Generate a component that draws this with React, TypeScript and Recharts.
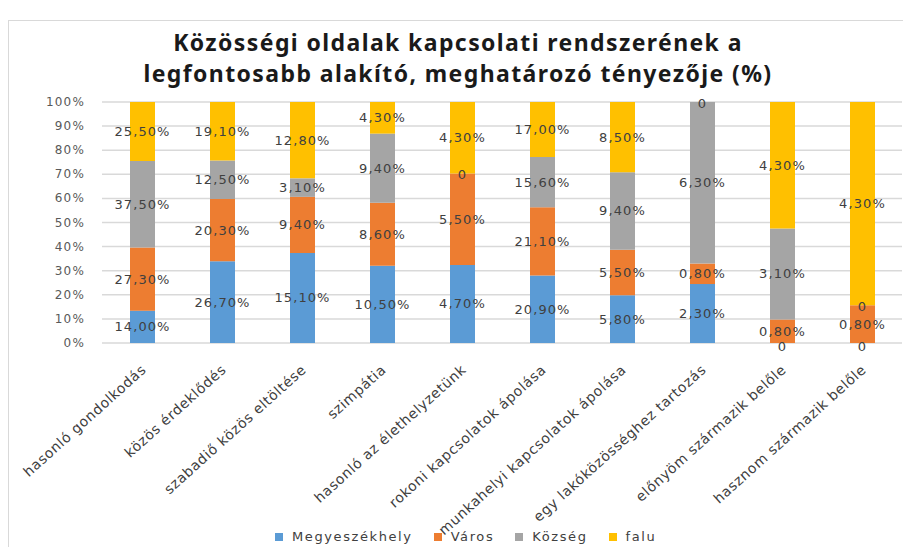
import React from "react";
import { BarChart, Bar, XAxis, YAxis, CartesianGrid, LabelList, Legend } from "recharts";

const categories = [
  "hasonló gondolkodás",
  "közös érdeklődés",
  "szabadiő közös eltöltése",
  "szimpátia",
  "hasonló az élethelyzetünk",
  "rokoni kapcsolatok ápolása",
  "munkahelyi kapcsolatok ápolása",
  "egy lakóközösséghez tartozás",
  "előnyöm származik belőle",
  "hasznom származik belőle",
];
const megyeszekhely = [14.0, 26.7, 15.1, 10.5, 4.7, 20.9, 5.8, 2.3, 0, 0];
const varos = [27.3, 20.3, 9.4, 8.6, 5.5, 21.1, 5.5, 0.8, 0.8, 0.8];
const kozseg = [37.5, 12.5, 3.1, 9.4, 0, 15.6, 9.4, 6.3, 3.1, 0];
const falu = [25.5, 19.1, 12.8, 4.3, 4.3, 17.0, 8.5, 0, 4.3, 4.3];
const yTicks = [0, 0.1, 0.2, 0.3, 0.4, 0.5, 0.6, 0.7, 0.8, 0.9, 1];

const seriesDefs = [
  { key: "m", name: "Megyeszékhely", color: "#5B9BD5", values: megyeszekhely },
  { key: "v", name: "Város", color: "#ED7D31", values: varos },
  { key: "k", name: "Község", color: "#A5A5A5", values: kozseg },
  { key: "f", name: "falu", color: "#FFC000", values: falu },
];

const data = categories.map((c, i) => ({
  name: c,
  m: megyeszekhely[i],
  v: varos[i],
  k: kozseg[i],
  f: falu[i],
}));

const FONT = "'DejaVu Sans', Verdana, sans-serif";

const fmt = (v: number) => (v === 0 ? "0" : v.toFixed(2).replace(".", ",") + "%");

const LabelText = ({ x, y, text }: { x: number; y: number; text: string }) => (
  <text
    x={x}
    y={y}
    textAnchor="middle"
    dominantBaseline="central"
    fontFamily={FONT}
    fontSize={13}
    letterSpacing={1.1}
    fill="#404040"
  >
    {text}
  </text>
);

const makeLabel = (sIdx: number) => (props: any) => {
  const { x, y, width, height, index, payload } = props;
  const values = seriesDefs[sIdx].values;
  let cat = -1;
  if (payload && typeof payload.name === "string") cat = categories.indexOf(payload.name);
  if (cat < 0) {
    const nz = values.map((v, i) => (v !== 0 ? i : -1)).filter((i) => i >= 0);
    cat = nz[index];
  }
  if (cat == null || cat < 0) return null;
  const v = values[cat];
  const cx = Number(x) + Number(width) / 2;
  const top = Number(y);
  const bottom = Number(y) + Number(height);
  const out: any[] = [];
  if (v !== 0) out.push(<LabelText key="v" x={cx} y={(top + bottom) / 2} text={fmt(v)} />);
  // zero-value segments of neighbouring series sit on this segment's edges
  if (sIdx + 1 < seriesDefs.length && seriesDefs[sIdx + 1].values[cat] === 0) {
    out.push(<LabelText key="z1" x={cx} y={top + 1} text="0" />);
  }
  if (sIdx - 1 >= 0 && seriesDefs[sIdx - 1].values[cat] === 0) {
    const below = seriesDefs.slice(0, sIdx).every((s) => s.values[cat] === 0);
    if (below) out.push(<LabelText key="z0" x={cx} y={bottom + 3} text="0" />);
  }
  return <g>{out}</g>;
};

const CatTick = (props: any) => {
  const { x, y, payload } = props;
  return (
    <g transform={`translate(${x + 5},${y + 28})`}>
      <text
        textAnchor="end"
        transform="rotate(-42)"
        fontFamily={FONT}
        fontSize={14}
        letterSpacing={0.6}
        fill="#404040"
      >
        {payload.value}
      </text>
    </g>
  );
};

const YTick = (props: any) => {
  const { y, payload } = props;
  return (
    <text
      x={85}
      y={y}
      textAnchor="end"
      dominantBaseline="central"
      fontFamily={FONT}
      fontSize={12}
      letterSpacing={1.2}
      fill="#595959"
    >
      {Math.round(payload.value * 100) + "%"}
    </text>
  );
};

const LegendContent = () => (
  <div
    style={{
      display: "flex",
      justifyContent: "flex-start",
      alignItems: "center",
      fontFamily: FONT,
      fontSize: 13,
      letterSpacing: 1.6,
      color: "#404040",
      paddingLeft: 275,
    }}
  >
    {seriesDefs.map((s) => (
      <div key={s.key} style={{ display: "flex", alignItems: "center", marginRight: 21 }}>
        <span style={{ width: 8, height: 8, background: s.color, display: "inline-block", marginRight: 9 }} />
        <span>{s.name}</span>
      </div>
    ))}
  </div>
);

export default function App() {
  return (
    <div style={{ position: "absolute", left: 0, top: 0, width: 903, height: 547, background: "#fff", overflow: "hidden" }}>
      <div
        style={{
          position: "absolute",
          left: 8,
          top: 20,
          width: 920,
          height: 560,
          border: "1px solid #D9D9D9",
        }}
      />
      <div
        style={{
          position: "absolute",
          left: 0,
          top: 27,
          width: 916,
          textAlign: "center",
          fontFamily: "'Noto Sans', sans-serif",
          fontWeight: 700,
          fontSize: 23,
          letterSpacing: 1.4,
          lineHeight: "31px",
          color: "#1a1a1a",
        }}
      >
        Közösségi oldalak kapcsolati rendszerének a
        <br />
        legfontosabb alakító, meghatározó tényezője (%)
      </div>
      <div style={{ position: "absolute", left: 0, top: 0 }}>
        <BarChart
          width={903}
          height={547}
          data={data}
          stackOffset="expand"
          margin={{ top: 102, right: 1, left: 0, bottom: 0 }}
        >
          <CartesianGrid vertical={false} stroke="#D9D9D9" strokeWidth={1.5} />
          <XAxis
            dataKey="name"
            axisLine={false}
            tickLine={false}
            tickSize={0}
            tickMargin={0}
            interval={0}
            height={184}
            tick={<CatTick />}
          />
          <YAxis
            width={102}
            domain={[0, 1]}
            ticks={yTicks}
            axisLine={false}
            tickLine={false}
            tick={<YTick />}
          />
          <Legend
            verticalAlign="bottom"
            height={20}
            content={<LegendContent />}
            wrapperStyle={{ position: "absolute", left: 0, top: 529, width: 903 }}
          />
          {seriesDefs.map((s, sIdx) => (
            <Bar
              key={s.key}
              dataKey={s.key}
              name={s.name}
              stackId="a"
              fill={s.color}
              barSize={25}
              isAnimationActive={false}
            >
              <LabelList content={makeLabel(sIdx)} />
            </Bar>
          ))}
        </BarChart>
      </div>
    </div>
  );
}
